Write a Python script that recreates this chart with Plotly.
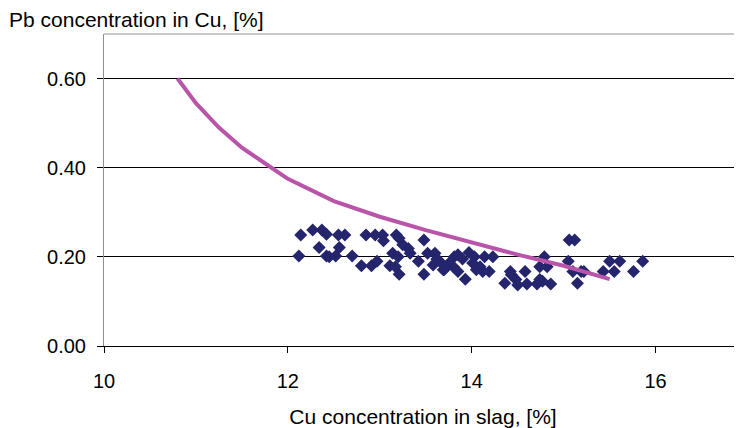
import plotly.graph_objects as go

# Scatter data (Cu in slag %, Pb in Cu %)
cu_slag = [12.14, 12.27, 12.37, 12.42, 12.55, 12.62, 12.12, 12.34, 12.42, 12.45, 12.52, 12.56,
           12.70, 12.80, 12.85, 12.95, 12.91, 12.97, 13.03, 13.04, 13.14, 13.18, 13.21, 13.11,
           13.17, 13.21, 13.20, 13.25, 13.31, 13.33, 13.42, 13.48, 13.48, 13.52, 13.60, 13.58,
           13.65, 13.69, 13.70, 13.81, 13.85, 13.80, 13.85, 13.93, 13.97, 14.01, 14.05, 14.09,
           14.14, 14.12, 14.19, 14.23, 14.36, 14.42, 14.43, 14.48, 14.50, 14.58, 14.60, 14.71,
           14.74, 14.74, 14.77, 14.79, 14.82, 14.86, 15.06, 15.12, 15.05, 15.10, 15.19, 15.22,
           15.15, 15.43, 15.50, 15.55, 15.61, 15.76, 15.86, 13.62, 13.75, 13.90, 14.03]
pb_cu = [0.249, 0.260, 0.260, 0.251, 0.249, 0.249, 0.202, 0.221, 0.202, 0.200, 0.202, 0.221,
         0.202, 0.180, 0.249, 0.249, 0.180, 0.190, 0.249, 0.236, 0.208, 0.249, 0.242, 0.180,
         0.178, 0.161, 0.200, 0.227, 0.219, 0.208, 0.190, 0.238, 0.161, 0.208, 0.208, 0.182,
         0.190, 0.171, 0.171, 0.200, 0.205, 0.178, 0.167, 0.150, 0.210, 0.186, 0.171, 0.178,
         0.200, 0.167, 0.167, 0.200, 0.141, 0.167, 0.160, 0.149, 0.137, 0.167, 0.139, 0.139,
         0.149, 0.178, 0.145, 0.200, 0.178, 0.139, 0.238, 0.238, 0.190, 0.167, 0.167, 0.167,
         0.141, 0.167, 0.190, 0.167, 0.190, 0.167, 0.190, 0.195, 0.185, 0.195, 0.200]

# Model curve
curve_x = [10.8, 11.0, 11.25, 11.5, 11.75, 12.0, 12.5, 13.0, 13.5, 14.0, 14.5, 15.0, 15.5]
curve_y = [0.60, 0.545, 0.49, 0.445, 0.41, 0.375, 0.325, 0.29, 0.26, 0.232, 0.205, 0.18, 0.15]

x_ticks = [10, 12, 14, 16]
y_ticks = [0.0, 0.2, 0.4, 0.6]
y_ticklabels = ["0.00", "0.20", "0.40", "0.60"]

fig = go.Figure()
fig.add_trace(go.Scatter(x=cu_slag, y=pb_cu, mode="markers",
                         marker=dict(symbol="diamond", size=10, color="#25256E",
                                     line=dict(width=0)),
                         showlegend=False, cliponaxis=False))
fig.add_trace(go.Scatter(x=curve_x, y=curve_y, mode="lines",
                         line=dict(color="#B955A8", width=4),
                         showlegend=False))

font = dict(family="Liberation Sans, Arial, sans-serif", size=20, color="#000000")
title_font = dict(family="Liberation Sans, Arial, sans-serif", size=21, color="#000000")

# the page body adds an 8px offset, so the figure is sized 734x420
fig.update_layout(
    width=734, height=420,
    margin=dict(l=96, r=0, t=26, b=82),
    paper_bgcolor="white", plot_bgcolor="white",
    font=font,
    xaxis=dict(range=[10, 16.94], tickvals=x_ticks, ticks="outside", ticklen=6,
               tickcolor="#000000", showgrid=False, zeroline=False,
               showline=True, linecolor="#000000", linewidth=1,
               ticklabelstandoff=11, automargin=False,
               title=dict(text="Cu concentration in slag, [%]", standoff=33,
                          font=title_font),
               mirror=False),
    yaxis=dict(range=[0, 0.70], tickvals=y_ticks, ticktext=y_ticklabels,
               ticks="outside", ticklen=6, tickcolor="#000000",
               showgrid=True, gridcolor="#000000", gridwidth=1,
               zeroline=False, showline=True, linecolor="#909090", linewidth=1,
               ticklabelstandoff=7, automargin=False),
    annotations=[dict(text="Pb concentration in Cu, [%]", xref="paper", yref="paper",
                      x=-96/638, y=1.0, xanchor="left", yanchor="bottom",
                      xshift=-1, yshift=1, showarrow=False, font=title_font)],
    shapes=[dict(type="line", xref="paper", yref="paper", x0=0, x1=1, y0=1, y1=1,
                 line=dict(color="#909090", width=1))],
)

fig.write_html("out.html")
